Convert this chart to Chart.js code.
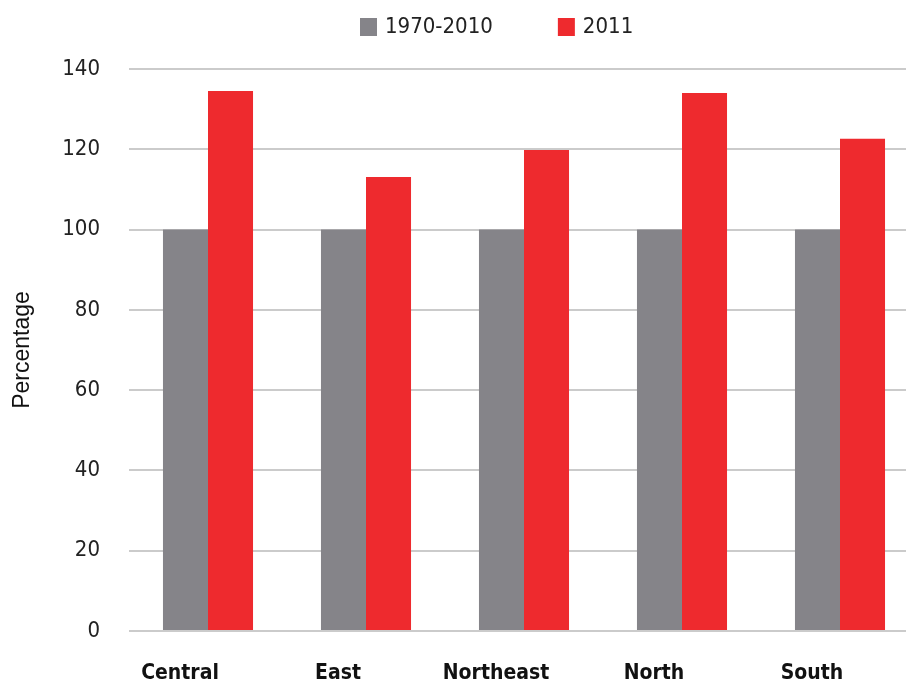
<!DOCTYPE html>
<html>
<head>
<meta charset="utf-8">
<script src="https://cdn.jsdelivr.net/npm/chart.js@4"></script>
<style>
  html, body { margin: 0; padding: 0; background: #fff; overflow: hidden; }
  #wrap { position: relative; width: 920px; height: 686px; }
</style>
</head>
<body>
<div id="wrap"><canvas id="chart" width="920" height="686"></canvas></div>
<script>
const regions = ['Central', 'East', 'Northeast', 'North', 'South'];
const baseline = [100, 100, 100, 100, 100];
const year2011 = [134.5, 113.1, 119.8, 134.0, 122.6];
const seriesNames = ['1970-2010', '2011'];
const yTicks = [0, 20, 40, 60, 80, 100, 120, 140];

const narrow = '"DejaVu Sans Condensed", "Liberation Sans Narrow", sans-serif';

// legend drawn on top, items spaced like the original
const topLegend = {
    id: 'topLegend',
    afterDraw(chart) {
        const ctx = chart.ctx;
        ctx.save();
        ctx.font = '22px ' + narrow;
        ctx.textBaseline = 'middle';
        let x = 360;
        chart.data.datasets.forEach(ds => {
            ctx.fillStyle = ds.backgroundColor;
            ctx.fillRect(x, 18, 17, 18);
            ctx.fillStyle = '#222';
            ctx.fillText(ds.label, x + 25, 27);
            x += 25 + ctx.measureText(ds.label).width + 65;
        });
        ctx.restore();
    }
};

const ctx = document.getElementById('chart').getContext('2d');
new Chart(ctx, {
    type: 'bar',
    data: {
        labels: regions,
        datasets: [{
            label: seriesNames[0],
            data: baseline,
            backgroundColor: '#858489',
            barPercentage: 1,
            categoryPercentage: 0.57
        }, {
            label: seriesNames[1],
            data: year2011,
            backgroundColor: '#ee2a2e',
            barPercentage: 1,
            categoryPercentage: 0.57
        }]
    },
    options: {
        responsive: false,
        animation: false,
        layout: { padding: { top: 69, right: 1, left: 0, bottom: 0 } },
        plugins: {
            legend: { display: false },
            tooltip: { enabled: false }
        },
        scales: {
            x: {
                afterFit(scale) { scale.height = 55; },
                grid: { display: false, drawTicks: false },
                border: { display: false },
                ticks: {
                    color: '#111',
                    padding: 30,
                    labelOffset: -28,
                    maxRotation: 0,
                    font: { family: narrow, size: 21, weight: 'bold' }
                }
            },
            y: {
                min: 0,
                max: 140,
                afterFit(scale) { scale.width = 129; },
                afterBuildTicks(scale) { scale.ticks = yTicks.map(v => ({ value: v })); },
                grid: { color: '#cbcbcb', lineWidth: 2, drawTicks: false },
                border: { display: false },
                ticks: {
                    color: '#222',
                    padding: 29,
                    font: { family: narrow, size: 22 }
                },
                title: {
                    display: true,
                    text: 'Percentage',
                    color: '#111',
                    padding: { top: 9, bottom: 0 },
                    font: { family: '"Liberation Sans", sans-serif', size: 23 }
                }
            }
        }
    },
    plugins: [topLegend]
});
</script>
</body>
</html>
